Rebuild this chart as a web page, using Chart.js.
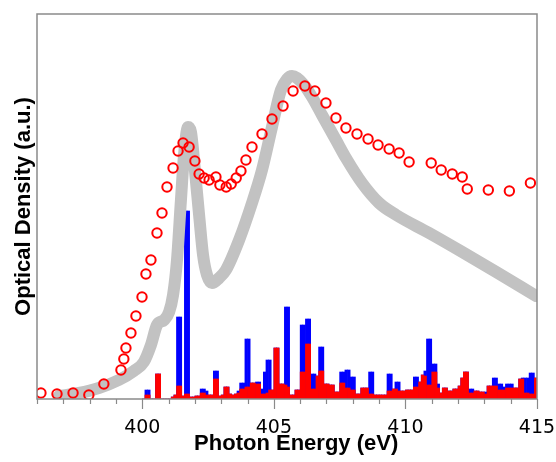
<!DOCTYPE html>
<html>
<head>
<meta charset="utf-8">
<script src="https://cdn.jsdelivr.net/npm/chart.js@4.4.1/dist/chart.umd.min.js"></script>
<style>
  html, body { margin: 0; padding: 0; background: #ffffff; }
  #wrap { width: 556px; height: 462px; }
</style>
</head>
<body>
<div id="wrap"><canvas id="c" width="556" height="462"></canvas></div>
<script>
// ---- Data (arbitrary units) ----
// Experimental spectrum (open red circles)
const expEnergy = [396.15, 396.76, 397.37, 397.97, 398.54, 399.19, 399.30, 399.38, 399.57, 399.76,
  399.99, 400.14, 400.33, 400.56, 400.75, 400.94, 401.17, 401.36, 401.55, 401.78,
  402.00, 402.16, 402.35, 402.54, 402.80, 402.95, 403.19, 403.38, 403.57, 403.75,
  403.94, 404.17, 404.55, 404.93, 405.35, 405.73, 406.18, 406.56, 406.98, 407.36,
  407.74, 408.16, 408.58, 408.96, 409.38, 409.76, 410.14, 410.98, 411.36, 411.78,
  412.16, 412.35, 413.15, 413.95, 414.75];
const expOD = [1.2, 1.0, 1.2, 0.8, 3.0, 5.8, 8.0, 10.2, 13.2, 16.6,
  20.4, 25.0, 27.8, 33.2, 37.2, 42.4, 46.2, 49.6, 51.2, 50.4,
  47.6, 45.0, 44.2, 43.8, 44.4, 42.8, 42.4, 43.0, 44.2, 45.6,
  47.8, 50.4, 53.0, 56.0, 58.6, 61.6, 62.6, 61.6, 59.2, 56.2,
  54.2, 53.0, 52.0, 50.8, 50.0, 49.2, 47.4, 47.2, 45.8, 45.0,
  44.4, 42.0, 41.8, 41.6, 43.2];

// Calculated broadened spectrum (thick grey line)
const calcEnergy = [396.83, 397.59, 398.35, 399.11, 399.68, 400.06, 400.33, 400.56, 400.83, 401.02,
  401.17, 401.32, 401.47, 401.59, 401.74, 401.85, 402.00, 402.16, 402.31, 402.46,
  402.65, 402.92, 403.18, 403.68, 404.17, 404.55, 404.93, 405.27, 405.50, 405.69,
  405.88, 406.15, 406.45, 406.83, 407.36, 407.74, 408.35, 409.00, 409.65, 410.90,
  412.16, 413.45, 414.97];
const calcOD = [0.6, 1.2, 2.2, 3.8, 5.6, 7.4, 10.8, 14.8, 15.8, 17.4,
  20.8, 27.8, 39.8, 49.0, 54.4, 53.4, 45.8, 36.8, 28.8, 24.8,
  23.2, 24.2, 25.8, 31.8, 39.2, 45.8, 54.4, 61.8, 64.0, 64.6,
  64.2, 62.8, 60.4, 56.8, 51.8, 48.2, 43.2, 39.2, 36.8, 33.2,
  29.4, 25.4, 20.6];

// Stick spectra binned on a 0.1 eV grid from 400.0 eV
const binStart = 400.0;
const binWidth = 0.1;
const blueSticks = [
  0, 1.8, 1.8, 0, 0, 5.0, 5.0, 0, 0, 0,
  0, 0.4, 0.8, 16.4, 16.4, 0.6, 37.6, 37.6, 0.4, 0.4,
  0.6, 0.6, 2.0, 2.0, 1.6, 0.8, 0.8, 5.6, 5.6, 0.6,
  0.8, 2.4, 2.4, 1.0, 0.8, 1.0, 1.6, 3.2, 3.2, 12.0,
  12.0, 3.2, 3.2, 3.4, 3.4, 2.0, 5.4, 7.8, 7.8, 1.8,
  10.2, 10.2, 3.0, 3.0, 18.4, 18.4, 0.8, 0.8, 1.8, 1.8,
  14.8, 14.8, 16.0, 16.0, 5.0, 5.0, 4.6, 10.4, 10.4, 3.0,
  3.0, 2.8, 2.8, 1.4, 1.4, 5.4, 5.4, 5.8, 5.8, 4.4,
  4.4, 1.0, 1.0, 2.2, 2.2, 2.2, 5.4, 5.4, 0.8, 0.8,
  0.8, 0.8, 0.8, 5.0, 5.0, 2.0, 3.4, 3.4, 1.6, 1.6,
  1.8, 1.8, 1.8, 4.4, 4.4, 3.4, 4.8, 5.6, 12.0, 12.0,
  7.0, 7.0, 3.0, 1.2, 2.2, 2.2, 1.6, 1.6, 2.0, 2.0,
  2.6, 4.2, 5.4, 5.4, 2.0, 2.0, 1.6, 1.6, 1.4, 1.4,
  1.4, 2.6, 2.6, 4.2, 4.2, 3.0, 3.0, 2.4, 3.0, 3.0,
  3.0, 2.2, 2.2, 4.0, 4.2, 4.2, 4.2, 5.2, 5.2, 4.2];
const redSticks = [
  0, 0.8, 0.8, 0, 0, 5.0, 5.0, 0, 0, 0,
  0, 0.4, 0.8, 2.6, 2.6, 0.6, 1.0, 1.0, 0.4, 0.4,
  0.6, 0.6, 1.2, 1.2, 0.8, 0.8, 0.8, 4.0, 4.0, 0.6,
  0.8, 2.4, 2.4, 1.0, 0.8, 1.0, 1.2, 2.0, 2.0, 2.4,
  2.4, 3.2, 3.2, 3.0, 3.0, 1.0, 1.0, 1.2, 1.8, 1.8,
  10.2, 10.2, 3.0, 3.0, 2.8, 2.4, 0.8, 0.8, 1.8, 1.8,
  5.4, 5.4, 11.0, 11.0, 2.0, 2.0, 4.6, 5.6, 5.6, 3.0,
  3.0, 2.8, 2.8, 1.4, 1.4, 3.2, 3.2, 2.2, 2.2, 1.8,
  1.8, 1.0, 1.0, 2.2, 2.2, 2.2, 1.0, 1.0, 0.8, 0.8,
  0.8, 0.8, 0.8, 1.6, 1.6, 2.0, 2.0, 1.6, 1.6, 1.6,
  1.8, 1.8, 1.8, 2.4, 2.4, 3.4, 4.8, 4.6, 2.8, 2.8,
  5.4, 5.4, 2.2, 1.2, 2.2, 2.2, 1.6, 1.6, 2.0, 2.0,
  2.6, 4.2, 5.4, 5.4, 1.2, 1.2, 1.6, 1.6, 1.4, 1.4,
  1.0, 2.6, 2.6, 2.6, 2.6, 1.8, 1.8, 1.8, 2.2, 2.2,
  2.2, 2.2, 2.2, 4.0, 4.0, 1.2, 1.2, 1.0, 1.0, 4.2];

const xMin = 396, xMax = 415, yMax = 77;
const majorTicks = [400, 405, 410, 415];
const xTitle = '   Photon Energy (eV)';
const yTitle = 'Optical Density (a.u.)';

// ---- Build datasets ----
const binCenter = i => +(binStart + binWidth * (i + 0.5)).toFixed(2);
const bluePts = blueSticks.map((v, i) => ({ x: binCenter(i), y: v }));
const redPts = redSticks.map((v, i) => ({ x: binCenter(i), y: v }));
const expPts = expEnergy.map((e, i) => ({ x: e, y: expOD[i] }));
const calcPts = calcEnergy.map((e, i) => ({ x: e, y: calcOD[i] }));

const frameColor = '#8a8a8a';
const framePlugin = {
  id: 'frame',
  afterDraw(chart) {
    const { ctx, chartArea: a } = chart;
    const x = chart.scales.x;
    ctx.save();
    ctx.strokeStyle = frameColor;
    ctx.lineWidth = 1.5;
    ctx.strokeRect(a.left, a.top, a.right - a.left, a.bottom - a.top);
    ctx.lineWidth = 1.2;
    x.ticks.forEach(t => {
      const px = Math.round(x.getPixelForValue(t.value)) + 0.5;
      const len = majorTicks.includes(t.value) ? 10 : 5;
      ctx.beginPath();
      ctx.moveTo(px, a.bottom);
      ctx.lineTo(px, a.bottom + len);
      ctx.stroke();
    });
    ctx.restore();
  }
};

new Chart(document.getElementById('c'), {
  type: 'bar',
  data: {
    datasets: [
      {
        type: 'scatter',
        data: expPts,
        showLine: false,
        pointStyle: 'circle',
        pointRadius: 4.7,
        pointBorderWidth: 2,
        borderColor: '#ff0000',
        pointBorderColor: '#ff0000',
        pointBackgroundColor: 'rgba(0,0,0,0)',
        backgroundColor: 'rgba(0,0,0,0)',
        order: 1
      },
      {
        type: 'line',
        data: calcPts,
        borderColor: '#c2c2c2',
        borderWidth: 12,
        pointRadius: 0,
        cubicInterpolationMode: 'monotone',
        borderCapStyle: 'round',
        borderJoinStyle: 'round',
        fill: false,
        order: 2
      },
      {
        type: 'bar',
        data: redPts,
        backgroundColor: '#ff0000',
        borderWidth: 0,
        barPercentage: 1,
        categoryPercentage: 1,
        grouped: false,
        order: 3
      },
      {
        type: 'bar',
        data: bluePts,
        backgroundColor: '#0000ff',
        borderWidth: 0,
        barPercentage: 1,
        categoryPercentage: 1,
        grouped: false,
        order: 4
      }
    ]
  },
  options: {
    responsive: false,
    animation: false,
    events: [],
    layout: { padding: { top: 14, right: 19, left: 0, bottom: 0 } },
    plugins: { legend: { display: false }, tooltip: { enabled: false } },
    scales: {
      x: {
        type: 'linear',
        min: xMin,
        max: xMax,
        offset: false,
        grid: { display: false, drawTicks: false },
        border: { display: false },
        ticks: {
          stepSize: 1,
          autoSkip: false,
          maxRotation: 0,
          padding: 18,
          color: '#000000',
          font: { family: 'DejaVu Sans', size: 19 },
          callback: v => (majorTicks.includes(v) ? String(v) : '')
        },
        title: {
          display: true,
          text: xTitle,
          color: '#000000',
          font: { family: 'Liberation Sans', size: 22, weight: 'bold' },
          padding: { top: 0, bottom: 5 }
        },
        afterFit: s => { s.height = 63; s.paddingLeft = 0; s.paddingRight = 0; }
      },
      y: {
        type: 'linear',
        min: 0,
        max: yMax,
        grid: { display: false, drawTicks: false },
        border: { display: false },
        ticks: { display: false },
        title: {
          display: true,
          text: yTitle,
          color: '#000000',
          font: { family: 'Liberation Sans', size: 22, weight: 'bold' },
          padding: { top: 11, bottom: 0 }
        },
        afterFit: s => { s.width = 37; s.paddingTop = 0; s.paddingBottom = 0; }
      }
    }
  },
  plugins: [framePlugin]
});
</script>
</body>
</html>
